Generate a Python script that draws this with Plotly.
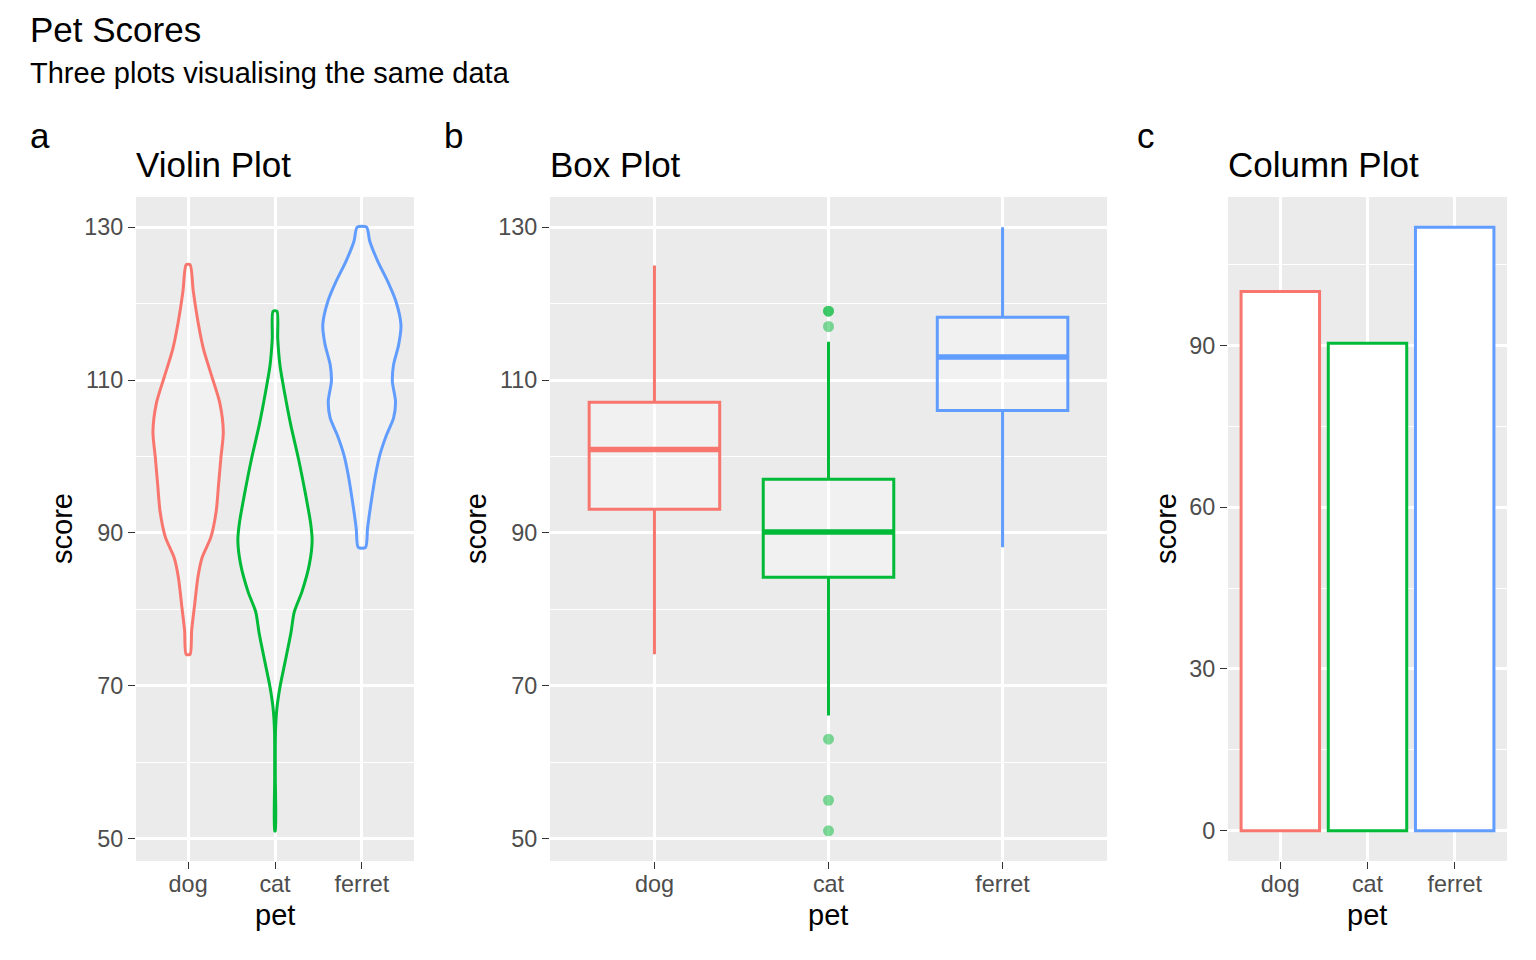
import plotly.graph_objects as go

# ---------------- data ----------------
pets = ["dog", "cat", "ferret"]
pet_colors = ["#F8766D", "#00BA38", "#619CFF"]

# violin outlines: score levels and relative density (1 = widest violin)
dog_violin_score = [125.1, 121.7, 117.4, 113.9, 110.4, 107.0, 103.2, 99.9, 96.4, 92.9, 89.4, 86.8, 84.2, 80.3, 77.2, 74.1]
dog_violin_density = [0.05, 0.13, 0.26, 0.40, 0.61, 0.81, 0.90, 0.84, 0.78, 0.72, 0.58, 0.36, 0.25, 0.16, 0.09, 0.05]

cat_violin_score = [119.0, 115.4, 111.8, 108.2, 104.2, 99.7, 94.8, 91.3, 89.0, 85.9, 82.3, 79.6, 77.0, 73.4, 69.9, 67.1, 64.0, 58.0, 51.0]
cat_violin_density = [0.05, 0.07, 0.13, 0.25, 0.40, 0.60, 0.79, 0.91, 0.95, 0.88, 0.69, 0.49, 0.41, 0.27, 0.13, 0.05, 0.012, 0.008, 0.008]

ferret_violin_score = [130.0, 128.2, 125.5, 122.9, 120.3, 117.2, 114.6, 112.0, 109.8, 107.2, 105.0, 102.8, 100.2, 97.6, 94.1, 90.6, 88.1]
ferret_violin_density = [0.12, 0.20, 0.41, 0.66, 0.87, 1.0, 0.94, 0.81, 0.78, 0.86, 0.81, 0.63, 0.46, 0.35, 0.24, 0.145, 0.094]

# box plot statistics
box_lower = [74.1, 66.1, 88.1]
box_q1 = [93.1, 84.2, 106.0]
box_median = [100.9, 90.1, 113.0]
box_q3 = [107.1, 97.0, 118.2]
box_upper = [125.0, 115.0, 130.0]
cat_outliers = [119, 119, 117, 63, 55, 51]

# column plot: mean score
mean_score = [100.0, 90.4, 111.9]

# ---------------- figure ----------------
FONT = "Liberation Sans, Arial, sans-serif"
OFF = 8                      # page body margin of the browser
W, H = 1536 - OFF, 960 - OFF
pos = [1, 2, 3]


def px(x):
    return (x - OFF) / W


def py(y):
    return 1 - (y - OFF) / H


fig = go.Figure()

violins = [(dog_violin_score, dog_violin_density),
           (cat_violin_score, cat_violin_density),
           (ferret_violin_score, ferret_violin_density)]
for i, (sc, dn) in enumerate(violins):
    xc = pos[i]
    hw = [d * 0.45 for d in dn]
    xs = [xc + h for h in hw] + [xc - h for h in reversed(hw)] + [xc + hw[0]]
    ys = list(sc) + list(reversed(sc)) + [sc[0]]
    fig.add_trace(go.Scatter(
        x=xs, y=ys, mode="lines", fill="toself",
        fillcolor="rgba(255,255,255,0.3)",
        line=dict(color=pet_colors[i], width=3, shape="spline", smoothing=0.7),
        xaxis="x", yaxis="y", hoverinfo="skip"))

for i in range(3):
    fig.add_trace(go.Box(
        x=[pos[i]], q1=[box_q1[i]], median=[box_median[i]], q3=[box_q3[i]],
        lowerfence=[box_lower[i]], upperfence=[box_upper[i]],
        width=0.75, whiskerwidth=0, boxpoints=False,
        line=dict(color=pet_colors[i], width=3),
        fillcolor="rgba(255,255,255,0.3)",
        xaxis="x2", yaxis="y2"))
    fig.add_trace(go.Scatter(
        x=[pos[i] - 0.375, pos[i] + 0.375], y=[box_median[i], box_median[i]],
        mode="lines", line=dict(color=pet_colors[i], width=5.5),
        xaxis="x2", yaxis="y2", hoverinfo="skip"))

fig.add_trace(go.Scatter(
    x=[pos[1]] * len(cat_outliers), y=cat_outliers, mode="markers",
    marker=dict(color="rgba(0,186,56,0.5)", size=11, line=dict(width=0)),
    xaxis="x2", yaxis="y2"))

fig.add_trace(go.Bar(
    x=pos, y=mean_score, width=0.9,
    marker=dict(color="white", line=dict(color=pet_colors, width=3)),
    xaxis="x3", yaxis="y3"))

ydom = [py(861), py(197)]
xdoms = [[px(136), px(414)], [px(550), px(1107)], [px(1228), px(1507)]]

tickfont = dict(family=FONT, size=23.4, color="#4d4d4d")


def xax(dom, anchor):
    return dict(domain=dom, anchor=anchor, range=[0.4, 3.6],
                tickmode="array", tickvals=pos, ticktext=pets,
                showgrid=True, gridcolor="white", gridwidth=2.8,
                ticks="outside", ticklen=7, tickwidth=1.4, tickcolor="#333333",
                ticklabelstandoff=-5,
                tickfont=tickfont, zeroline=False, showline=False, fixedrange=True)


def yax(anchor, rng, tick0, dtick):
    return dict(domain=ydom, anchor=anchor, range=rng,
                tick0=tick0, dtick=dtick,
                showgrid=True, gridcolor="white", gridwidth=2.8,
                minor=dict(tick0=tick0, dtick=dtick / 2, showgrid=True,
                           gridcolor="white", gridwidth=1.4, ticks=""),
                ticks="outside", ticklen=7, tickwidth=1.4, tickcolor="#333333",
                tickfont=tickfont, zeroline=False, showline=False, fixedrange=True)


score_range = [47.05, 133.95]
fig.update_layout(
    width=W, height=H,
    margin=dict(l=0, r=0, t=0, b=0),
    paper_bgcolor="white", plot_bgcolor="#EBEBEB",
    showlegend=False,
    xaxis=xax(xdoms[0], "y"), yaxis=yax("x", score_range, 50, 20),
    xaxis2=xax(xdoms[1], "y2"), yaxis2=yax("x2", score_range, 50, 20),
    xaxis3=xax(xdoms[2], "y3"), yaxis3=yax("x3", [-5.6, 117.5], 0, 30),
    font=dict(family=FONT),
)


def txt(text, x, y, size, xanchor="left", yanchor="middle", angle=0):
    fig.add_annotation(text=text, x=px(x), y=py(y), xref="paper", yref="paper",
                       xanchor=xanchor, yanchor=yanchor, showarrow=False,
                       textangle=angle, font=dict(family=FONT, size=size, color="black"))


txt("Pet Scores", 28, 29, 35)
txt("Three plots visualising the same data", 28, 73, 29)
txt("a", 28, 136, 35)
txt("b", 442, 136, 35)
txt("c", 1135, 136, 35)
txt("Violin Plot", 134, 165, 35)
txt("Box Plot", 548, 165, 35)
txt("Column Plot", 1226, 165, 35)
for cx in [275, 828, 1367]:
    txt("pet", cx, 915, 29, xanchor="center")
for sx in [62, 476, 1166]:
    txt("score", sx, 529, 29, xanchor="center", angle=-90)

fig.write_html("out.html")
